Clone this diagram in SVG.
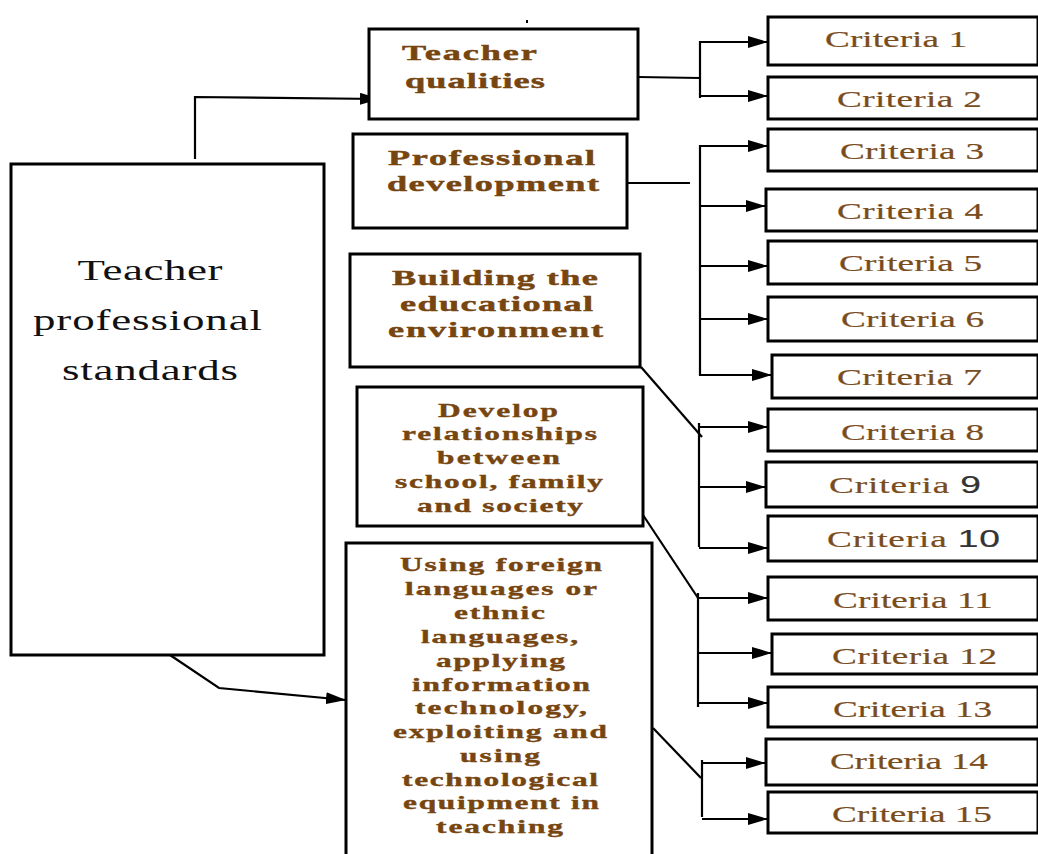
<svg xmlns="http://www.w3.org/2000/svg" width="1038" height="854" viewBox="0 0 1038 854">
<style>
.box{fill:#fff;stroke:#000;stroke-width:3}
.ln{fill:none;stroke:#000;stroke-width:2.2}
.main{font-family:"Liberation Serif","Times New Roman",serif;font-size:29px;fill:#111;text-anchor:middle}
.b22{font-family:"Liberation Serif","Times New Roman",serif;font-weight:bold;font-size:22px;fill:#77450f;stroke:#77450f;stroke-width:0.45;text-anchor:middle}
.b19{font-family:"Liberation Serif","Times New Roman",serif;font-weight:bold;font-size:19px;fill:#77450f;stroke:#77450f;stroke-width:0.4;text-anchor:middle}
.cr{font-family:"Liberation Serif","Times New Roman",serif;font-size:24px;fill:#7a4c1c;stroke:#7a4c1c;stroke-width:0.2;text-anchor:middle}
.num{font-family:"Liberation Sans",Arial,sans-serif;font-size:24px;fill:#333;stroke:#333}
</style>
<defs>
<marker id="ah" markerUnits="userSpaceOnUse" markerWidth="20" markerHeight="12" refX="20" refY="6" orient="auto">
<path d="M0,0 L20,6 L0,12 z" fill="#000"/>
</marker>
</defs>
<rect width="1038" height="854" fill="#fff"/>
<rect x="526" y="20" width="2" height="3" fill="#000"/>

<g id="connectors">
<polyline class="ln" points="195,159 195,97 380,99" marker-end="url(#ah)"/>
<polyline class="ln" points="170,655 219,688 346,700" marker-end="url(#ah)"/>
<line class="ln" x1="638" y1="77" x2="700" y2="78"/>
<line class="ln" x1="700" y1="41" x2="700" y2="98"/>
<line class="ln" x1="700" y1="42" x2="768" y2="42" marker-end="url(#ah)"/>
<line class="ln" x1="700" y1="96" x2="768" y2="96" marker-end="url(#ah)"/>
<line class="ln" x1="627" y1="183" x2="690" y2="183"/>
<line class="ln" x1="700" y1="145" x2="700" y2="376"/>
<line class="ln" x1="700" y1="146" x2="768" y2="146" marker-end="url(#ah)"/>
<line class="ln" x1="700" y1="206" x2="766" y2="206" marker-end="url(#ah)"/>
<line class="ln" x1="700" y1="266" x2="768" y2="266" marker-end="url(#ah)"/>
<line class="ln" x1="700" y1="319" x2="768" y2="319" marker-end="url(#ah)"/>
<line class="ln" x1="700" y1="375" x2="772" y2="375" marker-end="url(#ah)"/>
<line class="ln" x1="641" y1="367" x2="702" y2="437"/>
<line class="ln" x1="699" y1="423" x2="699" y2="547"/>
<line class="ln" x1="699" y1="427" x2="768" y2="427" marker-end="url(#ah)"/>
<line class="ln" x1="699" y1="487" x2="766" y2="487" marker-end="url(#ah)"/>
<line class="ln" x1="699" y1="548" x2="768" y2="548" marker-end="url(#ah)"/>
<line class="ln" x1="643" y1="515" x2="698" y2="598"/>
<line class="ln" x1="698" y1="593" x2="698" y2="707"/>
<line class="ln" x1="698" y1="598" x2="768" y2="598" marker-end="url(#ah)"/>
<line class="ln" x1="698" y1="653" x2="772" y2="653" marker-end="url(#ah)"/>
<line class="ln" x1="698" y1="703" x2="768" y2="703" marker-end="url(#ah)"/>
<line class="ln" x1="653" y1="728" x2="701" y2="778"/>
<line class="ln" x1="702" y1="760" x2="702" y2="817"/>
<line class="ln" x1="702" y1="763" x2="766" y2="763" marker-end="url(#ah)"/>
<line class="ln" x1="702" y1="819" x2="768" y2="819" marker-end="url(#ah)"/>
</g>

<g id="main">
<rect class="box" x="11" y="164" width="313" height="491"/>
<text class="main" transform="translate(150,280) scale(1.55,1)" textLength="93.5" lengthAdjust="spacing">Teacher</text>
<text class="main" transform="translate(147.5,330) scale(1.55,1)" textLength="147.7" lengthAdjust="spacing">professional</text>
<text class="main" transform="translate(150,380) scale(1.55,1)" textLength="113.5" lengthAdjust="spacing">standards</text>
</g>

<g id="teacher-qualities">
<rect class="box" x="369" y="29" width="269" height="90"/>
<text class="b22" transform="translate(469.5,60) scale(1.65,1)" textLength="81.8" lengthAdjust="spacing">Teacher</text>
<text class="b22" transform="translate(475,88) scale(1.65,1)" textLength="84.8" lengthAdjust="spacing">qualities</text>
</g>

<g id="professional-development">
<rect class="box" x="353" y="134" width="274" height="94"/>
<text class="b22" transform="translate(491.5,165) scale(1.65,1)" textLength="125.5" lengthAdjust="spacing">Professional</text>
<text class="b22" transform="translate(493,191) scale(1.65,1)" textLength="128.5" lengthAdjust="spacing">development</text>
</g>

<g id="building">
<rect class="box" x="350" y="254" width="290" height="113"/>
<text class="b22" transform="translate(495,285) scale(1.65,1)" textLength="124.8" lengthAdjust="spacing">Building the</text>
<text class="b22" transform="translate(496.5,311) scale(1.65,1)" textLength="117" lengthAdjust="spacing">educational</text>
<text class="b22" transform="translate(495.5,337) scale(1.65,1)" textLength="130.3" lengthAdjust="spacing">environment</text>
</g>

<g id="develop">
<rect class="box" x="357" y="387" width="286" height="139"/>
<text class="b19" transform="translate(498,417) scale(1.65,1)" textLength="72.7" lengthAdjust="spacing">Develop</text>
<text class="b19" transform="translate(499.5,440) scale(1.65,1)" textLength="118.2" lengthAdjust="spacing">relationships</text>
<text class="b19" transform="translate(498.5,464) scale(1.65,1)" textLength="74.5" lengthAdjust="spacing">between</text>
<text class="b19" transform="translate(499,488) scale(1.65,1)" textLength="126" lengthAdjust="spacing">school, family</text>
<text class="b19" transform="translate(500,512) scale(1.65,1)" textLength="100.6" lengthAdjust="spacing">and society</text>
</g>

<g id="using">
<rect class="box" x="346" y="543" width="306" height="330"/>
<text class="b19" transform="translate(501,571) scale(1.65,1)" textLength="122.4" lengthAdjust="spacing">Using foreign</text>
<text class="b19" transform="translate(501,595) scale(1.65,1)" textLength="116.4" lengthAdjust="spacing">languages or</text>
<text class="b19" transform="translate(499.5,619) scale(1.65,1)" textLength="55.2" lengthAdjust="spacing">ethnic</text>
<text class="b19" transform="translate(499.5,643) scale(1.65,1)" textLength="95.2" lengthAdjust="spacing">languages,</text>
<text class="b19" transform="translate(500.5,667) scale(1.65,1)" textLength="78.2" lengthAdjust="spacing">applying</text>
<text class="b19" transform="translate(501,691) scale(1.65,1)" textLength="107.9" lengthAdjust="spacing">information</text>
<text class="b19" transform="translate(501,714) scale(1.65,1)" textLength="104.2" lengthAdjust="spacing">technology,</text>
<text class="b19" transform="translate(500,738) scale(1.65,1)" textLength="129.7" lengthAdjust="spacing">exploiting and</text>
<text class="b19" transform="translate(500,762) scale(1.65,1)" textLength="48.5" lengthAdjust="spacing">using</text>
<text class="b19" transform="translate(500,786) scale(1.65,1)" textLength="118.8" lengthAdjust="spacing">technological</text>
<text class="b19" transform="translate(501,809) scale(1.65,1)" textLength="118.8" lengthAdjust="spacing">equipment in</text>
<text class="b19" transform="translate(499.5,833) scale(1.65,1)" textLength="77" lengthAdjust="spacing">teaching</text>
</g>

<g id="c1"><rect class="box" x="768" y="17" width="270" height="48"/>
<text class="cr" transform="translate(896,47) scale(1.55,1)" textLength="91.6" lengthAdjust="spacing">Criteria 1</text></g>
<g id="c2"><rect class="box" x="768" y="77" width="270" height="42"/>
<text class="cr" transform="translate(909.5,107) scale(1.55,1)" textLength="93.5" lengthAdjust="spacing">Criteria 2</text></g>
<g id="c3"><rect class="box" x="768" y="129" width="270" height="42"/>
<text class="cr" transform="translate(912,159) scale(1.55,1)" textLength="92.9" lengthAdjust="spacing">Criteria 3</text></g>
<g id="c4"><rect class="box" x="766" y="189" width="272" height="42"/>
<text class="cr" transform="translate(910,219) scale(1.55,1)" textLength="94.2" lengthAdjust="spacing">Criteria 4</text></g>
<g id="c5"><rect class="box" x="768" y="241" width="270" height="43"/>
<text class="cr" transform="translate(910.5,271) scale(1.55,1)" textLength="92.3" lengthAdjust="spacing">Criteria 5</text></g>
<g id="c6"><rect class="box" x="768" y="297" width="270" height="44"/>
<text class="cr" transform="translate(912.5,327) scale(1.55,1)" textLength="92.3" lengthAdjust="spacing">Criteria 6</text></g>
<g id="c7"><rect class="box" x="772" y="355" width="266" height="43"/>
<text class="cr" transform="translate(909.5,385) scale(1.55,1)" textLength="93.5" lengthAdjust="spacing">Criteria 7</text></g>
<g id="c8"><rect class="box" x="768" y="409" width="270" height="42"/>
<text class="cr" transform="translate(912.5,440) scale(1.55,1)" textLength="92.3" lengthAdjust="spacing">Criteria 8</text></g>
<g id="c9"><rect class="box" x="766" y="462" width="272" height="45"/>
<text class="cr" transform="translate(905,493) scale(1.55,1)" textLength="98.1" lengthAdjust="spacing">Criteria <tspan class="num">9</tspan></text></g>
<g id="c10"><rect class="box" x="768" y="516" width="270" height="45"/>
<text class="cr" transform="translate(913.5,547) scale(1.55,1)" textLength="111.6" lengthAdjust="spacing">Criteria <tspan class="num">10</tspan></text></g>
<g id="c11"><rect class="box" x="768" y="577" width="270" height="43"/>
<text class="cr" transform="translate(913,608) scale(1.55,1)" textLength="103.2" lengthAdjust="spacing">Criteria 11</text></g>
<g id="c12"><rect class="box" x="772" y="634" width="266" height="40"/>
<text class="cr" transform="translate(914.5,664) scale(1.55,1)" textLength="106.5" lengthAdjust="spacing">Criteria 12</text></g>
<g id="c13"><rect class="box" x="768" y="687" width="270" height="40"/>
<text class="cr" transform="translate(912.5,717) scale(1.55,1)" textLength="102.6" lengthAdjust="spacing">Criteria 13</text></g>
<g id="c14"><rect class="box" x="766" y="739" width="272" height="46"/>
<text class="cr" transform="translate(909,769) scale(1.55,1)" textLength="101.9" lengthAdjust="spacing">Criteria 14</text></g>
<g id="c15"><rect class="box" x="768" y="792" width="270" height="41"/>
<text class="cr" transform="translate(912,822) scale(1.55,1)" textLength="103.2" lengthAdjust="spacing">Criteria 15</text></g>
</svg>
